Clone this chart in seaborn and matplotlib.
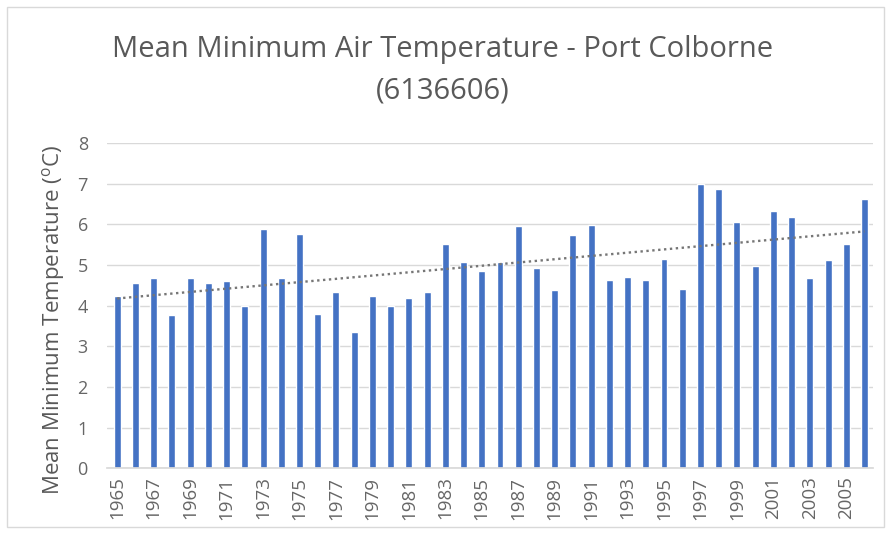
import numpy as np
import pandas as pd
import matplotlib
matplotlib.use("Agg")
import matplotlib.pyplot as plt
import seaborn as sns

years = list(range(1965, 2007))
temps = [4.23, 4.56, 4.68, 3.76, 4.68, 4.56, 4.60, 3.99, 5.89, 4.68,
         5.77, 3.80, 4.34, 3.36, 4.23, 3.98, 4.19, 4.34, 5.52, 5.08,
         4.86, 5.08, 5.95, 4.93, 4.38, 5.74, 5.99, 4.63, 4.71, 4.63,
         5.15, 4.41, 6.99, 6.88, 6.07, 4.97, 6.33, 6.18, 4.68, 5.12,
         5.52, 6.62]
yticks = [0, 1, 2, 3, 4, 5, 6, 7, 8]
title = "Mean Minimum Air Temperature - Port Colborne\n(6136606)"
ylabel = "Mean Minimum Temperature ($^{\\mathregular{o}}$C)"

sns.set_theme(style="white")
plt.rcParams['font.family'] = ['Open Sans', 'DejaVu Sans']

df = pd.DataFrame({"year": [str(y) for y in years], "temp": temps})

fig = plt.figure(figsize=(8.86, 5.40), dpi=100)
ax = fig.add_axes([0.121, 0.133, 0.864, 0.602])

sns.barplot(data=df, x="year", y="temp", color="#4472C4", width=0.38,
            saturation=1, ax=ax)

# linear trend line
xpos = np.arange(len(years))
coef = np.polyfit(xpos, temps, 1)
ax.plot(xpos, np.polyval(coef, xpos), linestyle=(0, (1, 1.5)), color="#767676",
        linewidth=1.7)

ax.set_ylim(0, 8)
ax.set_xlim(-0.55, len(years) - 0.55)
ax.set_yticks(yticks)
ax.set_yticklabels([str(t) for t in yticks], fontsize=13, color="#666666")
ax.set_xticks(xpos[::2])
ax.set_xticklabels([str(y) for y in years[::2]], rotation=90, fontsize=13.5,
                   color="#666666")
ax.tick_params(axis="x", length=0, pad=6)
ax.tick_params(axis="y", length=0, pad=14)
ax.yaxis.grid(True, color="#D9D9D9", linewidth=1)
ax.set_axisbelow(True)
for s in ["top", "right", "left"]:
    ax.spines[s].set_visible(False)
ax.spines["bottom"].set_color("#D9D9D9")
ax.set_xlabel("")
ax.set_ylabel(ylabel, fontsize=16, color="#595959")
ax.yaxis.set_label_coords(-0.052, 0.455)

fig.text(0.5, 0.87, title, ha="center", va="center", fontsize=21,
         color="#595959", linespacing=1.55)

W, H = 886, 540
border = plt.Rectangle((7 / W, 1 - 527 / H), (884 - 7) / W, (527 - 7) / H,
                       transform=fig.transFigure, fill=False,
                       edgecolor="#D9D9D9", linewidth=1)
fig.patches.append(border)

fig.savefig("out.png", dpi=100)
